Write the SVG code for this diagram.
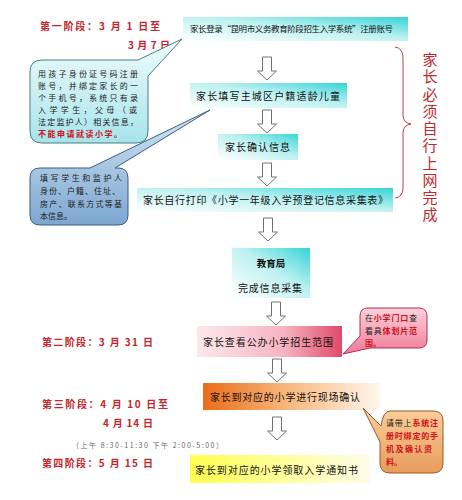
<svg xmlns="http://www.w3.org/2000/svg" width="462" height="500" viewBox="0 0 462 500">
<defs>
<linearGradient id="gCyan" x1="0" y1="1" x2="1" y2="0"><stop offset="0" stop-color="#ffffff"/><stop offset="0.55" stop-color="#bdf1f1"/><stop offset="1" stop-color="#36d4d6"/></linearGradient>
<linearGradient id="gPink" x1="0" y1="0" x2="1" y2="0"><stop offset="0" stop-color="#fde8ec"/><stop offset="0.6" stop-color="#f6b4c2"/><stop offset="1" stop-color="#e04a68"/></linearGradient>
<linearGradient id="gOrange" x1="0" y1="0" x2="1" y2="0"><stop offset="0" stop-color="#ea6c18"/><stop offset="0.45" stop-color="#f8b478"/><stop offset="1" stop-color="#fff7ee"/></linearGradient>
<linearGradient id="gYellow" x1="0" y1="0" x2="1" y2="0"><stop offset="0" stop-color="#ffff50"/><stop offset="0.7" stop-color="#ffffb8"/><stop offset="1" stop-color="#fffbe8"/></linearGradient>
<linearGradient id="gC1" x1="0" y1="0" x2="0" y2="1"><stop offset="0" stop-color="#effcfc"/><stop offset="1" stop-color="#a6e4ea"/></linearGradient>
<linearGradient id="gC2" x1="0" y1="0" x2="0" y2="1"><stop offset="0" stop-color="#d4e6f5"/><stop offset="1" stop-color="#7ca6d0"/></linearGradient>
<linearGradient id="gC3" x1="0" y1="0" x2="0" y2="1"><stop offset="0" stop-color="#fcd2dc"/><stop offset="1" stop-color="#f07a98"/></linearGradient>
<linearGradient id="gC4" x1="0" y1="0" x2="0" y2="1"><stop offset="0" stop-color="#f9cf9c"/><stop offset="1" stop-color="#e89c5a"/></linearGradient>
<path id="arr" d="M-4.5,0 H4.5 V14 H9.5 L0,23 L-9.5,14 H-4.5 Z"/>
</defs>
<style>
text{font-family:"Noto Sans CJK SC","Liberation Sans",sans-serif;}
.stage{font-size:10px;font-weight:bold;fill:#c4242c;}
.box{font-size:10px;fill:#111;}
.small{font-size:8px;fill:#222;}
.red{fill:#d0101a;font-weight:bold;}
.arrow{fill:#fff;stroke:#707070;stroke-width:1;}
.vert{font-size:15px;fill:#c0282e;writing-mode:vertical-rl;}
</style>
<rect width="462" height="500" fill="#fff"/>

<g id="stage-labels">
<text class="stage" x="40" y="30" textLength="120" lengthAdjust="spacing">第一阶段：3 月 1 日至</text>
<text class="stage" x="128" y="49" textLength="42" lengthAdjust="spacing">3 月 7 日</text>
<text class="stage" x="42" y="346" textLength="111" lengthAdjust="spacing">第二阶段：3 月 31 日</text>
<text class="stage" x="42" y="408" textLength="126" lengthAdjust="spacing">第三阶段：4 月 10 日至</text>
<text class="stage" x="103" y="427" textLength="50" lengthAdjust="spacing">4 月 14 日</text>
<text x="72" y="448" font-size="7" fill="#666" textLength="151" lengthAdjust="spacing">（上午 8:30-11:30   下午 2:00-5:00）</text>
<text class="stage" x="42" y="467" textLength="111" lengthAdjust="spacing">第四阶段：5 月 15 日</text>
</g>

<g id="connectors">
<use href="#arr" class="arrow" x="267" y="57"/>
<use href="#arr" class="arrow" x="267" y="110"/>
<use href="#arr" class="arrow" x="267" y="163"/>
<use href="#arr" class="arrow" x="268" y="218"/>
<use href="#arr" class="arrow" x="276" y="302"/>
<use href="#arr" class="arrow" x="277" y="359"/>
<use href="#arr" class="arrow" x="277" y="417"/>
<path d="M395,47 Q403,48 403,58 L403,115 Q403,123 411,124 Q403,125 403,133 L403,188 Q403,197 395,198" fill="none" stroke="#b84050" stroke-width="1"/>
</g>

<g id="note-online">
<text class="vert" x="430" y="52" textLength="170" lengthAdjust="spacing">家长必须自行上网完成</text>
</g>

<g id="n-register">
<rect x="183" y="17" width="225" height="24" fill="url(#gCyan)"/>
<text x="190" y="32" font-size="8.5" fill="#111" textLength="203" lengthAdjust="spacing">家长登录“昆明市义务教育阶段招生入学系统”注册账号</text>
</g>

<g id="n-fill">
<rect x="190" y="83" width="157" height="25" fill="url(#gCyan)"/>
<text class="box" x="196" y="99.5" textLength="144" lengthAdjust="spacing">家长填写主城区户籍适龄儿童</text>
</g>

<g id="n-confirm">
<rect x="218" y="134" width="80" height="26" fill="url(#gCyan)"/>
<text class="box" x="225" y="151" textLength="65" lengthAdjust="spacing">家长确认信息</text>
</g>

<g id="n-print">
<rect x="137" y="188" width="256" height="24" fill="url(#gCyan)"/>
<text class="box" x="143" y="204" textLength="245" lengthAdjust="spacing">家长自行打印《小学一年级入学预登记信息采集表》</text>
</g>

<g id="n-bureau">
<rect x="232" y="248" width="78" height="50" fill="url(#gCyan)"/>
<text x="271" y="267" font-size="9.5" font-weight="bold" fill="#111" text-anchor="middle">教育局</text>
<text class="box" x="238" y="292" textLength="64" lengthAdjust="spacing">完成信息采集</text>
</g>

<g id="n-range">
<rect x="197" y="326" width="145" height="31" fill="url(#gPink)"/>
<text class="box" x="203" y="346" textLength="130" lengthAdjust="spacing">家长查看公办小学招生范围</text>
</g>

<g id="n-onsite">
<rect x="203" y="383" width="177" height="27" fill="url(#gOrange)"/>
<text class="box" x="210" y="401" textLength="150" lengthAdjust="spacing">家长到对应的小学进行现场确认</text>
</g>

<g id="n-notice">
<rect x="190" y="455" width="180" height="28" fill="url(#gYellow)"/>
<text class="box" x="195" y="474" textLength="163" lengthAdjust="spacing">家长到对应的小学领取入学通知书</text>
</g>

<g id="callout-id">
<path d="M42,60 L138,60 L182,39 L148,76 L148,131 Q148,143 136,143 L42,143 Q30,143 30,131 L30,72 Q30,60 42,60 Z" fill="url(#gC1)" stroke="#4c7c80" stroke-width="1"/>
<text class="small" x="38" y="77" textLength="100" lengthAdjust="spacing">用孩子身份证号码注册</text>
<text class="small" x="38" y="89" textLength="100" lengthAdjust="spacing">账号，并绑定家长的一</text>
<text class="small" x="38" y="101" textLength="100" lengthAdjust="spacing">个手机号，系统只有录</text>
<text class="small" x="38" y="113" textLength="99" lengthAdjust="spacing">入学学生，父母（或</text>
<text class="small" x="38" y="125" textLength="100" lengthAdjust="spacing">法定监护人）相关信息，</text>
<text class="small red" x="38" y="137" textLength="84" lengthAdjust="spacing">不能申请就读小学。</text>
</g>

<g id="callout-info">
<path d="M40,168 L90,168 L210,110 L115,168 L118,168 Q128,168 128,178 L128,215 Q128,225 118,225 L40,225 Q30,225 30,215 L30,178 Q30,168 40,168 Z" fill="url(#gC2)" stroke="#3c5c80" stroke-width="1"/>
<text class="small" x="40" y="181" textLength="82" lengthAdjust="spacing">填写学生和监护人</text>
<text class="small" x="40" y="194" textLength="80" lengthAdjust="spacing">身份、户籍、住址、</text>
<text class="small" x="40" y="207" textLength="82" lengthAdjust="spacing">房产、联系方式等基</text>
<text class="small" x="40" y="219" textLength="32" lengthAdjust="spacing">本信息。</text>
</g>

<g id="callout-school">
<path d="M368,308 L419,308 Q427,308 427,316 L427,340 Q427,348 419,348 L370,348 L343,354 L360,336 L360,316 Q360,308 368,308 Z" fill="url(#gC3)" stroke="#b03050" stroke-width="1"/>
<text class="small" x="365" y="321" textLength="52" lengthAdjust="spacing">在<tspan class="red">小学门口</tspan>查</text>
<text class="small" x="365" y="334" textLength="52" lengthAdjust="spacing">看具<tspan class="red">体划片范</tspan></text>
<text class="small red" x="365" y="346" textLength="16" lengthAdjust="spacing">围。</text>
</g>

<g id="callout-phone">
<path d="M390,411 L433,411 Q443,411 443,421 L443,463 Q443,473 433,473 L390,473 Q380,473 380,463 L380,442 L363,408 L381,426 Q383,411 390,411 Z" fill="url(#gC4)" stroke="#9a5a28" stroke-width="1"/>
<text class="small" x="386" y="426" textLength="52" lengthAdjust="spacing">请带上<tspan class="red">系统注</tspan></text>
<text class="small red" x="386" y="439" textLength="52" lengthAdjust="spacing">册时绑定的手</text>
<text class="small red" x="386" y="452" textLength="46" lengthAdjust="spacing">机及确认资</text>
<text class="small red" x="386" y="465" textLength="16" lengthAdjust="spacing">料。</text>
</g>
</svg>
